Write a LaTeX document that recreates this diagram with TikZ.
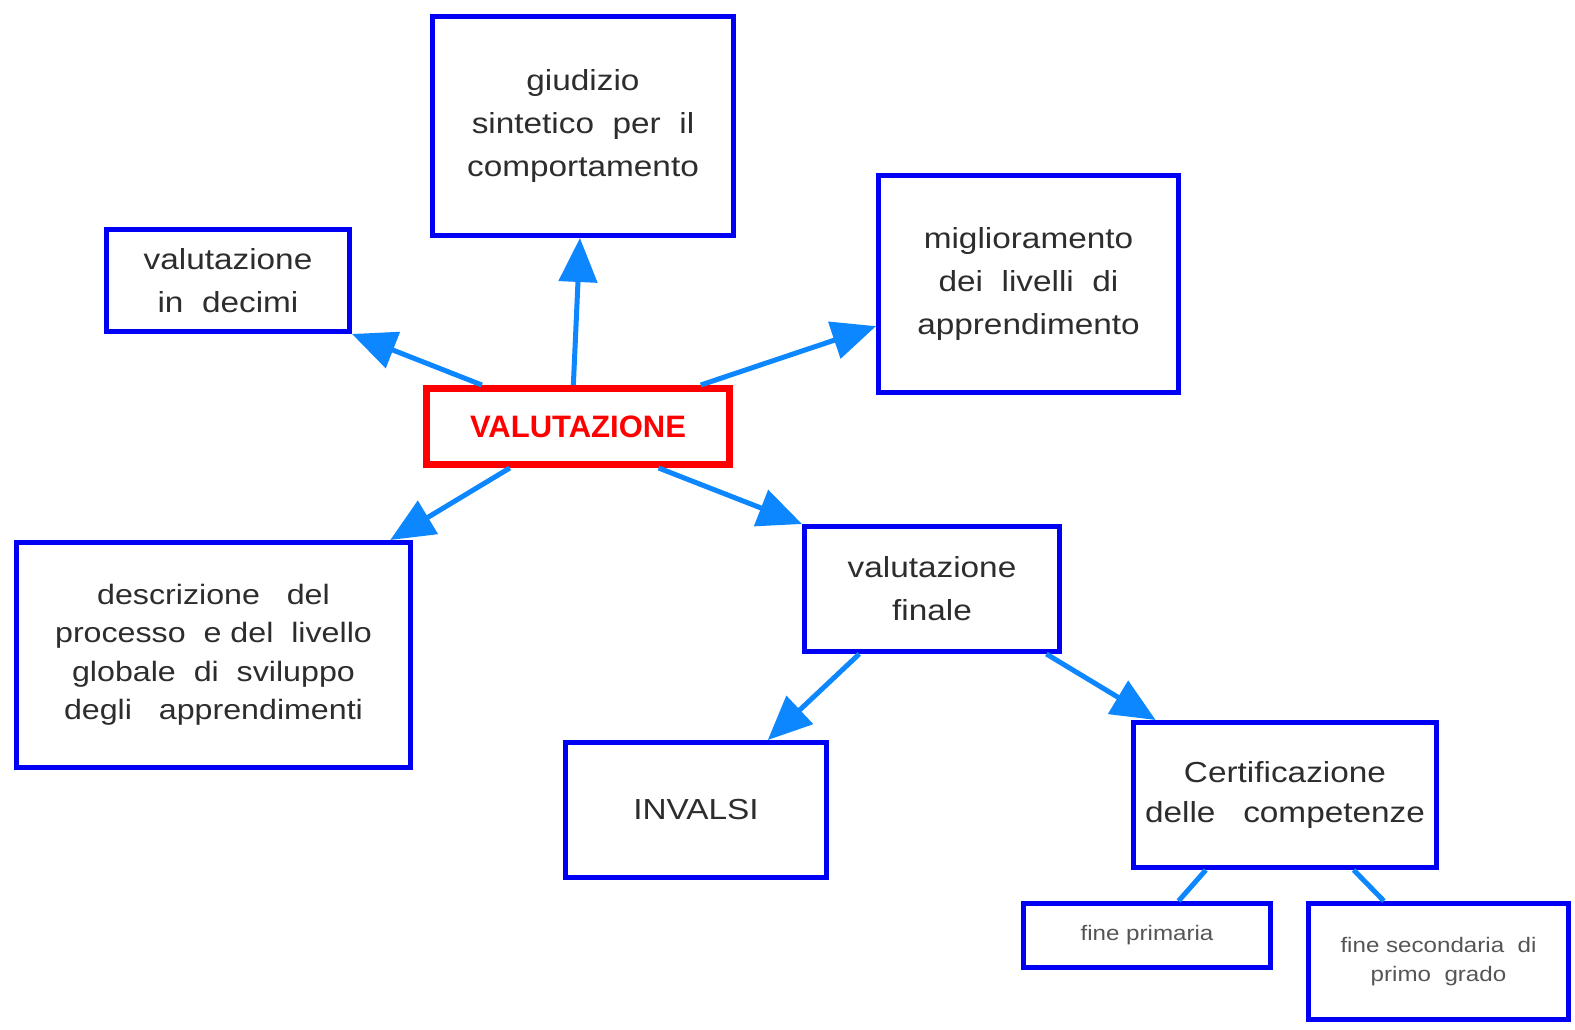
\documentclass[tikz,border=0pt]{standalone}
\usepackage{fontspec}
\setmainfont{Liberation Sans}
\newfontfamily\boxfont[FakeStretch=1.15]{Liberation Sans}
\usetikzlibrary{arrows.meta,calc}
\definecolor{boxblue}{RGB}{0,0,245}
\definecolor{arrowblue}{RGB}{12,135,255}
\definecolor{txtgray}{RGB}{45,45,45}
\definecolor{smallgray}{RGB}{85,85,85}
\definecolor{valred}{RGB}{255,0,0}
\begin{document}
\begin{tikzpicture}[x=1pt,y=-1pt,
  box/.style={draw=boxblue, line width=5pt, inner sep=0pt, align=center, text=txtgray,
    font={\boxfont\fontsize{29}{43}\selectfont}},
  smallbox/.style={box, text=smallgray, font={\boxfont\fontsize{21}{29}\selectfont}},
  mainbox/.style={draw=valred, line width=7pt, inner sep=0pt, text=valred,
    font={\bfseries\fontsize{31}{37}\selectfont}},
  arr/.style={draw=arrowblue, line width=5pt, -{Triangle[length=44pt,width=38pt]}},
  link/.style={draw=arrowblue, line width=5pt}]
\useasboundingbox[fill=white] (0,0) rectangle (1575,1030);

\node[mainbox, minimum width=303, minimum height=76] (val) at (578,426.5) {VALUTAZIONE};

\node[box, minimum width=301, minimum height=219] (giu) at (583,126)
  {giudizio\\sintetico\ \ per\ \ il\\comportamento};
\node[box, minimum width=243, minimum height=102] (dec) at (228,280.5)
  {valutazione\\in\ \ decimi};
\node[box, minimum width=300, minimum height=217] (mig) at (1028.5,284)
  {miglioramento\\dei\ \ livelli\ \ di\\apprendimento};
\node[box, minimum width=394, minimum height=225,
  font={\boxfont\fontsize{28}{38.5}\selectfont}] (des) at (213.5,655)
  {descrizione\ \ \ del\\processo\ \ e del\ \ livello\\globale\ \ di\ \ sviluppo\\degli\ \ \ apprendimenti};
\node[box, minimum width=255, minimum height=125] (fin) at (932,589)
  {valutazione\\finale};
\node[box, minimum width=261, minimum height=135] (inv) at (696,810) {INVALSI};
\node[box, minimum width=303, minimum height=145, font={\boxfont\fontsize{29}{40}\selectfont}] (cer) at (1285,795)
  {Certificazione\\delle\ \ \ competenze};
\node[smallbox, minimum width=247, minimum height=64] (pri) at (1147,935.5)
  {fine\ primaria};
\node[smallbox, minimum width=260, minimum height=116] (sec) at (1438.5,961.5)
  {fine\ secondaria\ \ di\\primo\ \ grado};

\draw[arr] ($(val.north west)!0.19!(val.north east)$) -- (dec.south east);
\draw[arr] ($(val.north west)!0.485!(val.north east)$) -- ($(giu.south west)!0.49!(giu.south east)$);
\draw[arr] ($(val.north west)!0.896!(val.north east)$) -- ($(mig.north west)!0.69!(mig.south west)$);
\draw[arr] ($(val.south west)!0.28!(val.south east)$) -- ($(des.north west)!0.943!(des.north east)$);
\draw[arr] ($(val.south west)!0.76!(val.south east)$) -- (fin.north west);
\draw[arr] ($(fin.south west)!0.22!(fin.south east)$) -- ($(inv.north west)!0.77!(inv.north east)$);
\draw[arr] ($(fin.south west)!0.94!(fin.south east)$) -- ($(cer.north west)!0.08!(cer.north east)$);
\draw[link] ($(cer.south west)!0.243!(cer.south east)$) -- ($(pri.north west)!0.625!(pri.north east)$);
\draw[link] ($(cer.south west)!0.723!(cer.south east)$) -- ($(sec.north west)!0.294!(sec.north east)$);
\end{tikzpicture}
\end{document}
